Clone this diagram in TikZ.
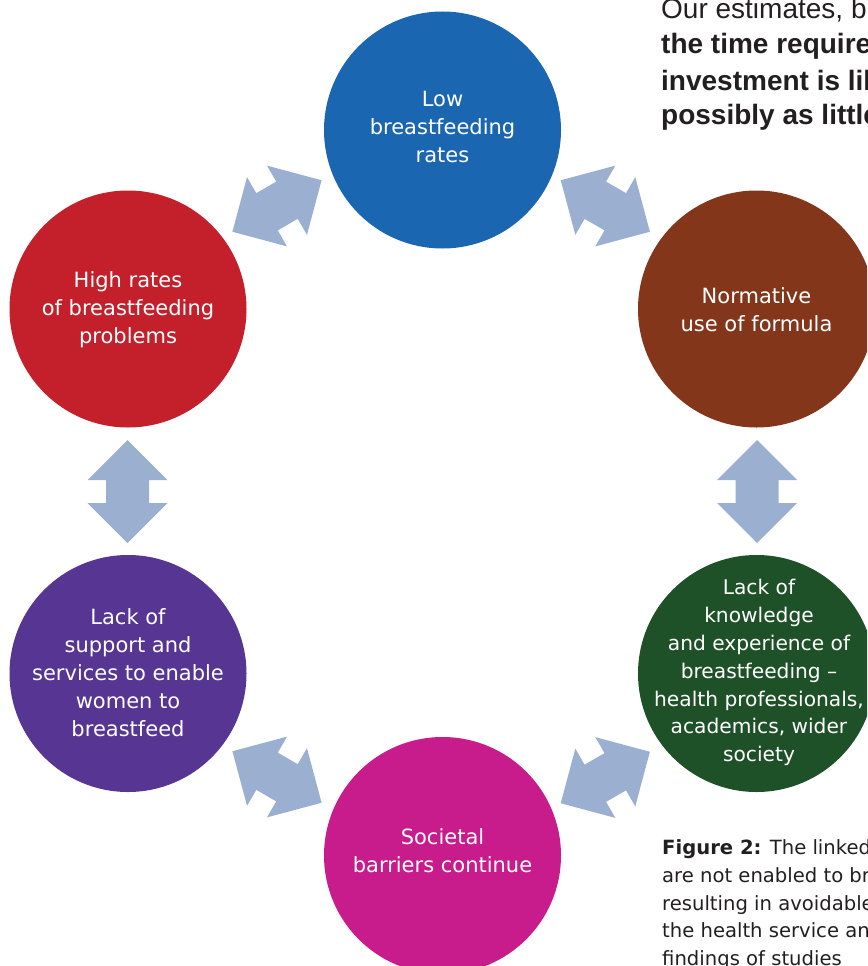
\documentclass[tikz,border=0pt]{standalone}
\usepackage{fontspec}
\setmainfont{DejaVu Sans}
\newfontfamily\parafont{Liberation Sans}
\definecolor{cblue}{RGB}{27,102,177}
\definecolor{cred}{RGB}{196,32,43}
\definecolor{cbrown}{RGB}{131,54,26}
\definecolor{cpurple}{RGB}{87,53,146}
\definecolor{cgreen}{RGB}{31,81,41}
\definecolor{cmag}{RGB}{200,28,140}
\definecolor{carrow}{RGB}{155,176,208}
\definecolor{cdark}{RGB}{35,31,32}
\tikzset{
  circ/.style={circle, minimum size=237pt, inner sep=0pt, draw=none},
  ctext/.style={text=white, align=center, inner sep=0pt, font=\fontsize{21}{28}\selectfont},
  ctextsmall/.style={text=white, align=center, inner sep=0pt, font=\fontsize{20.2}{27.8}\selectfont},
  parareg/.style={anchor=base west, inner sep=0pt, text=cdark, font=\parafont\fontsize{28}{35}\selectfont},
  parabold/.style={anchor=base west, inner sep=0pt, text=cdark, font=\parafont\bfseries\fontsize{28}{35}\selectfont},
  captext/.style={anchor=base west, inner sep=0pt, text=cdark, font=\fontsize{19.6}{27.8}\selectfont},
  dblarr/.pic={\fill[carrow] (-51.5,0) -- (-11.5,40) -- (-11.5,21.5) -- (11.5,21.5) -- (11.5,40)
      -- (51.5,0) -- (11.5,-40) -- (11.5,-21.5) -- (-11.5,-21.5) -- (-11.5,-40) -- cycle;}
}
\begin{document}
\begin{tikzpicture}[x=1pt,y=-1pt]
\useasboundingbox (0,0) rectangle (867,966);
\clip (0,0) rectangle (867,966);

% circles
\node[circ, fill=cblue] (low) at (442.5,130) {};
\node[circ, fill=cred] (high) at (128,309) {};
\node[circ, fill=cbrown] (norm) at (756.5,309) {};
\node[circ, fill=cpurple] (supp) at (128,673.5) {};
\node[circ, fill=cgreen] (know) at (756.5,673.5) {};
\node[circ, fill=cmag] (soc) at (442.5,855.5) {};

% circle texts
\node[ctext] (lowt) at (442.5,127.4) {Low\\breastfeeding\\rates};
\node[ctext] (hight) at (128,310) {High rates\\of breastfeeding\\problems};
\node[ctext] (normt) at (756.5,310) {Normative\\use of formula};
\node[ctext] (suppt) at (128,673) {Lack of\\support and\\services to enable\\women to\\breastfeed};
\node[ctextsmall] (knowt) at (759,672.7) {Lack of\\knowledge\\and experience of\\breastfeeding --\\health professionals,\\academics, wider\\society};
\node[ctext] (soct) at (442.5,851) {Societal\\barriers continue};

% double arrows
\pic (a1) [rotate=30] at (277,206) {dblarr};
\pic (a2) [rotate=-30] at (605.3,206) {dblarr};
\pic (a3) [rotate=90] at (127.5,491.5) {dblarr};
\pic (a4) [rotate=90] at (757,491.5) {dblarr};
\pic (a5) [rotate=-30] at (277,777) {dblarr};
\pic (a6) [rotate=30] at (605.3,777.5) {dblarr};

% paragraph text (top right)
\node[parareg] (p1) at (661,19) {Our estimates, b};
\node[parabold] (p2) at (661,54) {the time require};
\node[parabold] (p3) at (661,90) {investment is lik};
\node[parabold] (p4) at (661,124) {possibly as little};

% caption
\node[captext] (c1) at (662,854) {\textbf{Figure 2:} The linked};
\node[captext] (c2) at (662,882) {are not enabled to br};
\node[captext] (c3) at (662,910) {resulting in avoidable};
\node[captext] (c4) at (662,937.5) {the health service an};
\node[captext] (c5) at (662,965) {findings of studies};
\end{tikzpicture}
\end{document}
